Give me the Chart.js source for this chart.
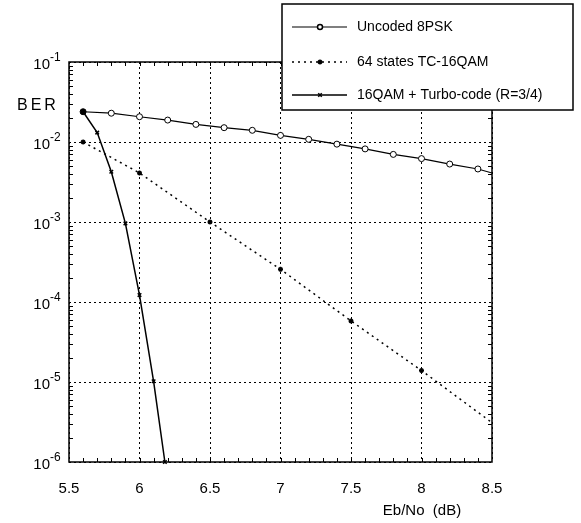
<!DOCTYPE html>
<html>
<head>
<meta charset="utf-8">
<script src="https://cdn.jsdelivr.net/npm/chart.js@4"></script>
<style>
  body { margin: 0; background: #fff; }
  canvas { display: block; }
</style>
</head>
<body>
<canvas id="berChart" width="581" height="523"></canvas>
<script>
// Eb/No (dB) and BER
const uncodedEb = [5.6, 5.8, 6.0, 6.2, 6.4, 6.6, 6.8, 7.0, 7.2, 7.4, 7.6, 7.8, 8.0, 8.2, 8.4, 8.5];
const uncodedBer = [0.0239, 0.0229, 0.0207, 0.0188, 0.0166, 0.0151, 0.0140, 0.0121, 0.0108, 0.0094, 0.0082, 0.0070, 0.0062, 0.0053, 0.0046, 0.0041];

const tcEb = [5.6, 6.0, 6.5, 7.0, 7.5, 8.0, 8.5];
const tcBer = [0.01, 0.0041, 0.001, 2.56e-4, 5.8e-5, 1.39e-5, 3.1e-6];

const turboEb = [5.6, 5.7, 5.8, 5.9, 6.0, 6.1, 6.18];
const turboBer = [0.0239, 0.0131, 0.00425, 9.6e-4, 1.22e-4, 1.02e-5, 1e-6];

const seriesLabels = ["Uncoded 8PSK", "64 states TC-16QAM", "16QAM + Turbo-code (R=3/4)"];

const xTicks = [5.5, 6, 6.5, 7, 7.5, 8, 8.5];
const yTicks = [1e-6, 1e-5, 1e-4, 1e-3, 1e-2, 1e-1];
const yExponents = ["-6", "-5", "-4", "-3", "-2", "-1"];

const FONT = '"Liberation Sans", Arial, sans-serif';

function pairs(xs, ys) {
  return xs.map((x, i) => ({ x: x, y: ys[i] }));
}

// box, inner minor ticks, y labels, axis titles and the legend
const decorations = {
  id: "decorations",
  afterDraw(chart) {
    const ctx = chart.ctx;
    const area = chart.chartArea;
    const xs = chart.scales.x;
    const ys = chart.scales.y;

    ctx.save();
    ctx.strokeStyle = "#000";
    ctx.lineWidth = 1;

    // minor ticks on x (every 0.1)
    for (let i = 56; i < 85; i++) {
      const px = Math.round(xs.getPixelForValue(i / 10)) + 0.5;
      ctx.beginPath();
      ctx.moveTo(px, area.bottom);
      ctx.lineTo(px, area.bottom - 4);
      ctx.moveTo(px, area.top);
      ctx.lineTo(px, area.top + 4);
      ctx.stroke();
    }
    // minor ticks on y (2..9 per decade)
    for (let k = -6; k < -1; k++) {
      for (let m = 2; m <= 9; m++) {
        const py = Math.round(ys.getPixelForValue(m * Math.pow(10, k))) + 0.5;
        ctx.beginPath();
        ctx.moveTo(area.left, py);
        ctx.lineTo(area.left + 4, py);
        ctx.moveTo(area.right, py);
        ctx.lineTo(area.right - 4, py);
        ctx.stroke();
      }
    }

    // frame
    ctx.lineWidth = 1.5;
    ctx.strokeRect(area.left, area.top, area.right - area.left, area.bottom - area.top);

    // y tick labels 10^k
    ctx.fillStyle = "#000";
    yTicks.forEach((v, i) => {
      const py = ys.getPixelForValue(v);
      ctx.font = "15px " + FONT;
      ctx.textAlign = "right";
      ctx.textBaseline = "middle";
      ctx.fillText("10", 50, py + 3);
      ctx.font = "12px " + FONT;
      ctx.textAlign = "left";
      ctx.fillText(yExponents[i], 50, py - 4);
    });

    // axis titles
    ctx.font = "16px " + FONT;
    ctx.textAlign = "left";
    ctx.textBaseline = "middle";
    let bx = 17;
    for (const ch of "BER") {
      ctx.fillText(ch, bx, 106);
      bx += ctx.measureText(ch).width + 3;
    }
    ctx.font = "15px " + FONT;
    ctx.textAlign = "center";
    ctx.fillText("Eb/No  (dB)", 422, 511);

    // legend
    ctx.fillStyle = "#fff";
    ctx.fillRect(282, 4, 291, 106);
    ctx.lineWidth = 1.5;
    ctx.strokeStyle = "#000";
    ctx.strokeRect(282, 4, 291, 106);
    const rows = [27, 62, 95];
    chart.data.datasets.forEach((ds, i) => {
      const y = rows[i];
      ctx.save();
      ctx.strokeStyle = "#000";
      ctx.lineWidth = ds.borderWidth;
      ctx.setLineDash(ds.borderDash || []);
      ctx.beginPath();
      ctx.moveTo(292, y);
      ctx.lineTo(347, y);
      ctx.stroke();
      ctx.restore();
      Chart.helpers.drawPoint(ctx, {
        pointStyle: ds.pointStyle,
        radius: 2.5,
        borderWidth: ds.pointBorderWidth
      }, 320, y);
      ctx.fillStyle = "#000";
      ctx.font = "14px " + FONT;
      ctx.textAlign = "left";
      ctx.textBaseline = "middle";
      ctx.fillText(ds.label, 357, y);
    });
    ctx.restore();
  }
};

new Chart(document.getElementById("berChart"), {
  type: "line",
  data: {
    datasets: [
      {
        label: seriesLabels[0],
        data: pairs(uncodedEb, uncodedBer),
        borderColor: "#000",
        borderWidth: 1.2,
        pointStyle: "circle",
        pointRadius: uncodedEb.map((x, i) => (i === 0 ? 3 : i === uncodedEb.length - 1 ? 0 : 3)),
        pointBackgroundColor: uncodedEb.map((x, i) => (i === 0 ? "#000" : "#fff")),
        pointBorderColor: "#000",
        pointBorderWidth: 1,
        clip: false
      },
      {
        label: seriesLabels[1],
        data: pairs(tcEb, tcBer),
        borderColor: "#000",
        borderWidth: 1.5,
        borderDash: [2, 4],
        pointStyle: "star",
        pointRadius: tcEb.map((x, i) => (i === tcEb.length - 1 ? 0 : 2.5)),
        pointBackgroundColor: "#000",
        pointBorderColor: "#000",
        pointBorderWidth: 1.5,
        clip: false
      },
      {
        label: seriesLabels[2],
        data: pairs(turboEb, turboBer),
        borderColor: "#000",
        borderWidth: 1.5,
        pointStyle: "crossRot",
        pointRadius: 2.5,
        pointBackgroundColor: "#000",
        pointBorderColor: "#000",
        pointBorderWidth: 1.5,
        clip: false
      }
    ]
  },
  options: {
    responsive: false,
    animation: false,
    layout: { padding: { left: 0, top: 62, right: 89, bottom: 0 } },
    elements: { line: { tension: 0 } },
    plugins: {
      legend: { display: false },
      tooltip: { enabled: false }
    },
    scales: {
      x: {
        type: "linear",
        min: 5.5,
        max: 8.5,
        afterBuildTicks: (scale) => {
          scale.ticks = xTicks.map((v) => ({ value: v }));
        },
        afterFit: (scale) => {
          scale.height = 61;
        },
        grid: { color: "#000", lineWidth: 1, drawTicks: false },
        border: { display: false, dash: [2, 3] },
        ticks: {
          color: "#000",
          padding: 18,
          maxRotation: 0,
          font: { family: FONT, size: 15 },
          callback: (value) => String(value)
        }
      },
      y: {
        type: "logarithmic",
        min: 1e-6,
        max: 1e-1,
        afterBuildTicks: (scale) => {
          scale.ticks = yTicks.map((v) => ({ value: v }));
        },
        afterFit: (scale) => {
          scale.width = 69;
        },
        grid: { color: "#000", lineWidth: 1, drawTicks: false },
        border: { display: false, dash: [2, 3] },
        ticks: { display: false }
      }
    }
  },
  plugins: [decorations]
});
</script>
</body>
</html>
